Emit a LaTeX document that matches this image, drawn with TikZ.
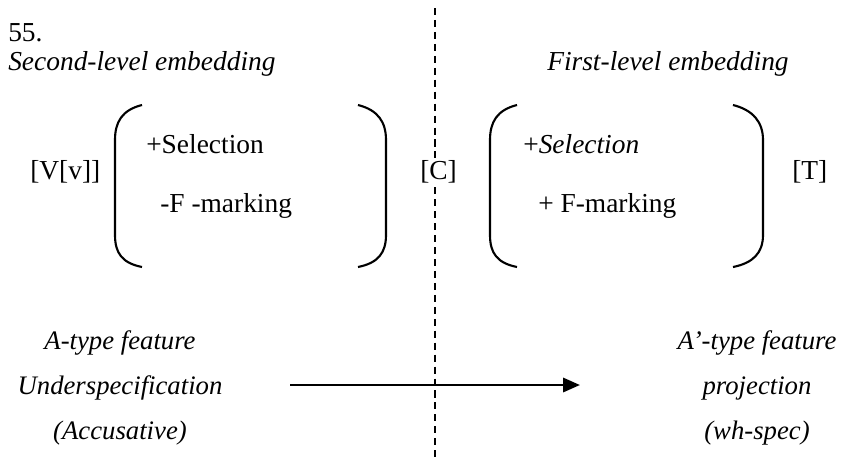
\documentclass[tikz,border=0pt]{standalone}
\usepackage{fontspec}
\setmainfont{Liberation Serif}
\usetikzlibrary{positioning}
\usetikzlibrary{arrows.meta}
\tikzset{
    txt/.style = {inner sep=0pt, font=\fontsize{19.5}{23}\selectfont},
    itxt/.style = {inner sep=0pt, font=\fontsize{19.5}{23}\selectfont\itshape},
    feat/.style = {inner sep=0pt, align=center, font=\fontsize{19}{32}\selectfont\itshape},
    paren/.style = {line width=1.5pt},
    divider/.style = {line width=1.2pt, dash pattern=on 5pt off 3.5pt}, % level boundary
    edgen/.style = {-{Triangle[length=12pt,width=10pt]}, line width=2pt},
}

\begin{document}
\begin{tikzpicture}[x=0.025cm, y=-0.025cm]
\useasboundingbox (0,0) rectangle (841,462);
%
\coordinate (divtop) at (435,8);
\coordinate (divbot) at (435,462);
\draw[divider] (divtop) -- (divbot);
%
\node[txt, anchor=base west] at (8, 41) (num) {55.};
\node[itxt, anchor=base west] at (8, 70) (second) {Second-level embedding};
\node[itxt, anchor=base west] at (547, 70) (first) {First-level embedding};
%
\node[txt, anchor=base west] at (30, 179) (vv) {[V[v]]};
\node[txt, anchor=base west] at (146, 153) (sela) {+Selection};
\node[txt, anchor=base west] at (160, 212) (fma) {-F -marking};
\node[txt, anchor=base west, fill=white] at (420, 179) (c) {[C]};
\node[txt, anchor=base west] at (523, 153) (selb) {+\textit{Selection}};
\node[txt, anchor=base west] at (538, 212) (fmb) {+ F-marking};
\node[txt, anchor=base west] at (792, 179) (t) {[T]};
%
\draw[paren] (142,105) .. controls (122,110) and (115,122) .. (115,140) -- (115,235) .. controls (115,253) and (122,263) .. (142,267);
\draw[paren] (358,105) .. controls (378,110) and (386,122) .. (386,140) -- (386,235) .. controls (386,253) and (378,263) .. (358,267);
\draw[paren] (517,105) .. controls (497,110) and (490,122) .. (490,140) -- (490,235) .. controls (490,253) and (497,263) .. (517,267);
\draw[paren] (733,105) .. controls (753,110) and (763,122) .. (763,140) -- (763,235) .. controls (763,253) and (753,263) .. (733,267);
%
\node[feat] at (120, 388) (atype) {A-type feature\\Underspecification\\(Accusative)};
\node[feat] at (757, 388) (abtype) {A'-type feature\\projection\\(wh-spec)};
%
\coordinate (tail) at (290,385);
\coordinate (head) at (580,385);
\draw[edgen] (tail) -- (head);

\end{tikzpicture}
\end{document}
